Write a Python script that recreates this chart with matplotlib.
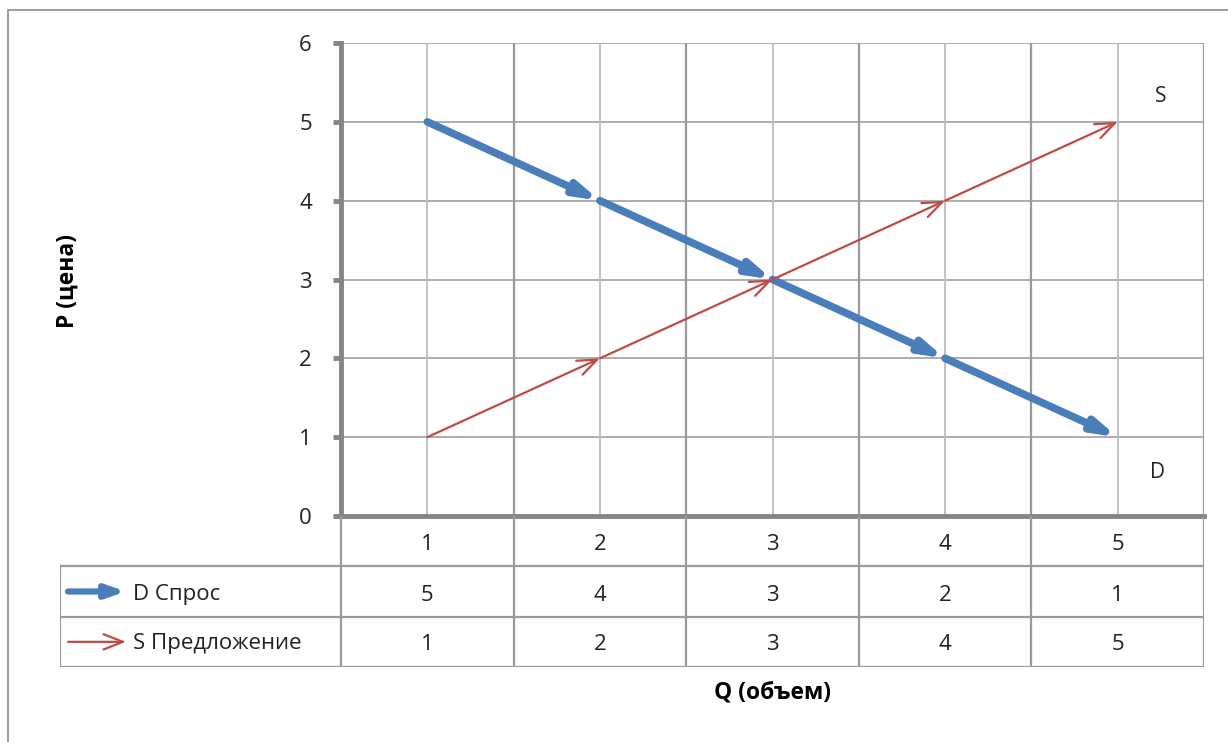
import numpy as np
import matplotlib
matplotlib.use('Agg')
import matplotlib.pyplot as plt
from matplotlib.patches import Rectangle

plt.rcParams['font.family'] = ['Open Sans', 'DejaVu Sans']

# data
q_vals = [1, 2, 3, 4, 5]
demand = [5, 4, 3, 2, 1]
supply = [1, 2, 3, 4, 5]
series_names = ['D Спрос', 'S Предложение']
blue = '#4A7EBB'
red = '#BE4B48'
grid_c = '#A6A6A6'
axis_c = '#868686'

W, H = 1228, 742
fig = plt.figure(figsize=(W / 100, H / 100), dpi=100)

def px(x0, y0, x1, y1):
    return [x0 / W, 1 - y1 / H, (x1 - x0) / W, (y1 - y0) / H]

# outer chart border
fig.add_artist(Rectangle((8 / W, -0.01), 1.0, 1 - 10 / H + 0.01,
                         transform=fig.transFigure, fill=False,
                         ec='#8C8C8C', lw=1.2))

# plot area
L, R, T, B = 341, 1204, 43, 516
ax = fig.add_axes(px(L, T, R, B))
ax.set_xlim(0.5, 5.5)
ax.set_ylim(0, 6)
for y in range(1, 7):
    ax.axhline(y, color=grid_c, lw=1.3, zorder=1)
for x in np.arange(0.5, 5.6, 1.0):
    ax.axvline(x, color='#9A9A9A', lw=1.6, zorder=1)
for x in q_vals:
    ax.axvline(x, color='#BDBDBD', lw=1.3, zorder=1)

for s in ['top', 'right']:
    ax.spines[s].set_visible(False)
ax.spines['left'].set_color(axis_c)
ax.spines['left'].set_linewidth(3.5)
ax.spines['bottom'].set_color(axis_c)
ax.spines['bottom'].set_linewidth(3.5)
ax.set_yticks(range(0, 7))
ax.tick_params(axis='y', length=6, width=3.5, color=axis_c, labelsize=16,
               pad=15, labelcolor='#222222')
ax.set_xticks([])

# demand: thick blue arrows between points
for i in range(len(q_vals) - 1):
    ax.annotate('', xy=(q_vals[i + 1], demand[i + 1]), xytext=(q_vals[i], demand[i]),
                arrowprops=dict(arrowstyle='-|>,head_length=1.3,head_width=0.38',
                                color=blue, lw=5.5, shrinkA=0, shrinkB=0,
                                capstyle='round'), zorder=4)
# supply: thin red open arrows
for i in range(len(q_vals) - 1):
    ax.annotate('', xy=(q_vals[i + 1], supply[i + 1]), xytext=(q_vals[i], supply[i]),
                arrowprops=dict(arrowstyle='->,head_length=1.4,head_width=0.55',
                                color=red, lw=1.6, shrinkA=0, shrinkB=0), zorder=5)

ax.text(5.25, 5.32, 'S', fontsize=15, ha='center', va='center', color='#222222')
ax.text(5.23, 0.55, 'D', fontsize=15, ha='center', va='center', color='#222222')

fig.text(68 / W, 1 - 281 / H, 'P (цена)', rotation=90, ha='center', va='center',
         fontsize=16.5, fontweight='bold')

# data table below the plot
TL, TB = 60, 667
tab = fig.add_axes(px(TL, B, R, TB))
unit = (R - L) / 5.0
x_left = 0.5 - (L - TL) / unit
tab.set_xlim(x_left, 5.5)
tab.set_ylim(0, 3)
tab.axis('off')
tl = dict(color='#9A9A9A', lw=1.6)
for yy in [0, 1, 2]:
    tab.plot([x_left, 5.5], [yy, yy], **tl)
tab.plot([x_left, x_left], [0, 2], **tl)
for xx in np.arange(0.5, 5.6, 1.0):
    tab.plot([xx, xx], [0, 3], **tl)

tcol = '#222222'
for i, q in enumerate(q_vals):
    tab.text(q, 2.43, str(q), ha='center', va='center', fontsize=16, color=tcol)
    tab.text(q, 1.43, str(demand[i]), ha='center', va='center', fontsize=16, color=tcol)
    tab.text(q, 0.45, str(supply[i]), ha='center', va='center', fontsize=16, color=tcol)

k0 = x_left + 8 / unit
k1 = x_left + 66 / unit
tab.annotate('', xy=(k1, 1.5), xytext=(k0, 1.5),
             arrowprops=dict(arrowstyle='-|>,head_length=1.1,head_width=0.38',
                             color=blue, lw=4.5, shrinkA=0, shrinkB=0))
tab.annotate('', xy=(k1, 0.5), xytext=(k0, 0.5),
             arrowprops=dict(arrowstyle='->,head_length=1.4,head_width=0.55',
                             color=red, lw=1.6, shrinkA=0, shrinkB=0))
tab.text(x_left + 73 / unit, 1.45, series_names[0], ha='left', va='center',
         fontsize=16, color=tcol)
tab.text(x_left + 73 / unit, 0.47, series_names[1], ha='left', va='center',
         fontsize=16, color=tcol)

fig.text((L + R) / 2 / W, 1 - 692 / H, 'Q (объем)', ha='center', va='center',
         fontsize=16.5, fontweight='bold')

fig.savefig('out.png', dpi=100)
